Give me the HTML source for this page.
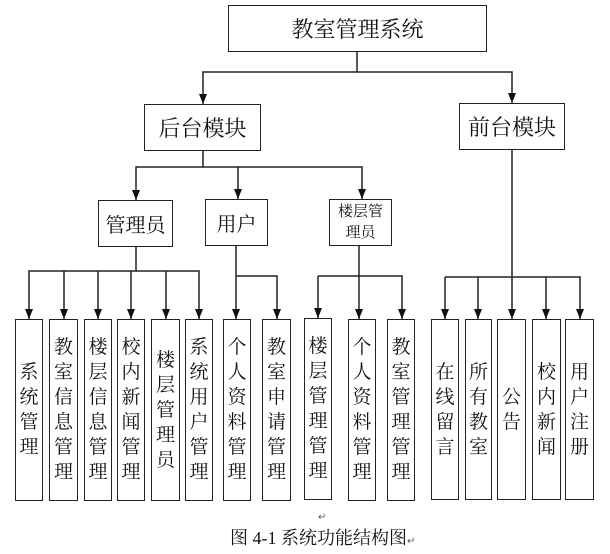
<!DOCTYPE html>
<html><head><meta charset="utf-8"><style>
body{margin:0;background:#fff;width:610px;height:552px;position:relative;overflow:hidden;font-family:"Liberation Serif","Noto Serif CJK SC",serif;color:#111}
.b{position:absolute;border:1.5px solid #222;box-sizing:border-box;display:flex;align-items:center;justify-content:center;text-align:center}
.v{font-size:19px;line-height:25px;width:20px;word-break:break-all}
svg{position:absolute;left:0;top:0}
</style></head><body>
<svg width="610" height="552" viewBox="0 0 610 552">
<defs><marker id="a" markerWidth="10" markerHeight="8" refX="10" refY="4" orient="auto" markerUnits="userSpaceOnUse"><path d="M0,0 L10,4 L0,8 z" fill="#111"/></marker></defs>
<g stroke="#222" stroke-width="1.5" fill="none">
<path d="M357,52 V72 H203 V104" marker-end="url(#a)"/>
<path d="M357,72 H512 V103" marker-end="url(#a)"/>
<path d="M203,151 V167 H136 V200" marker-end="url(#a)"/>
<path d="M203,167 H238 V199" marker-end="url(#a)"/>
<path d="M238,167 H362 V199" marker-end="url(#a)"/>
<path d="M136,247 V271 H29 V319" marker-end="url(#a)"/>
<path d="M64,271 V319" marker-end="url(#a)"/>
<path d="M98,271 V319" marker-end="url(#a)"/>
<path d="M131,271 V319" marker-end="url(#a)"/>
<path d="M166,271 V319" marker-end="url(#a)"/>
<path d="M136,271 H199 V319" marker-end="url(#a)"/>
<path d="M236,246 V319" marker-end="url(#a)"/>
<path d="M236,276 H277 V319" marker-end="url(#a)"/>
<path d="M359,246 V319" marker-end="url(#a)"/>
<path d="M318,276 H402 V319" marker-end="url(#a)"/>
<path d="M318,276 V318" marker-end="url(#a)"/>
<path d="M512,149 V319" marker-end="url(#a)"/>
<path d="M445,277 H580 V319" marker-end="url(#a)"/>
<path d="M445,277 V319" marker-end="url(#a)"/>
<path d="M478,277 V319" marker-end="url(#a)"/>
<path d="M546,277 V319" marker-end="url(#a)"/>
</g></svg>
<div class="b" style="left:228px;top:5px;width:259px;height:47px;font-size:22px">教室管理系统</div>
<div class="b" style="left:144px;top:104px;width:117px;height:47px;font-size:22px">后台模块</div>
<div class="b" style="left:459px;top:103px;width:106px;height:47px;font-size:22px">前台模块</div>
<div class="b" style="left:98px;top:200px;width:75px;height:47px;font-size:20px">管理员</div>
<div class="b" style="left:205px;top:199px;width:63px;height:47px;font-size:20px">用户</div>
<div class="b" style="left:329px;top:199px;width:63px;height:47px;font-size:15px;line-height:21px">楼层管<br>理员</div>

<div class="b" style="left:15px;top:319px;width:28px;height:182px"><div class="v">系统管理</div></div>
<div class="b" style="left:49px;top:319px;width:29px;height:182px"><div class="v">教室信息管理</div></div>
<div class="b" style="left:84px;top:319px;width:28px;height:182px"><div class="v">楼层信息管理</div></div>
<div class="b" style="left:117px;top:319px;width:28px;height:182px"><div class="v">校内新闻管理</div></div>
<div class="b" style="left:151px;top:319px;width:29px;height:182px"><div class="v">楼层管理员</div></div>
<div class="b" style="left:185px;top:319px;width:28px;height:182px"><div class="v">系统用户管理</div></div>
<div class="b" style="left:223px;top:319px;width:28px;height:182px"><div class="v">个人资料管理</div></div>
<div class="b" style="left:262px;top:319px;width:29px;height:182px"><div class="v">教室申请管理</div></div>
<div class="b" style="left:304px;top:318px;width:28px;height:182px"><div class="v">楼层管理管理</div></div>
<div class="b" style="left:348px;top:319px;width:28px;height:182px"><div class="v">个人资料管理</div></div>
<div class="b" style="left:387px;top:319px;width:28px;height:182px"><div class="v">教室管理管理</div></div>
<div class="b" style="left:431px;top:319px;width:28px;height:181px"><div class="v">在线留言</div></div>
<div class="b" style="left:465px;top:319px;width:27px;height:181px"><div class="v">所有教室</div></div>
<div class="b" style="left:497px;top:319px;width:29px;height:181px"><div class="v">公告</div></div>
<div class="b" style="left:532px;top:319px;width:29px;height:181px"><div class="v">校内新闻</div></div>
<div class="b" style="left:565px;top:319px;width:29px;height:181px"><div class="v">用户注册</div></div>

<div style="position:absolute;left:318px;top:512px;font-size:10px;color:#555">↵</div>
<div style="position:absolute;left:230px;top:526px;font-size:18px;line-height:24px;white-space:nowrap">图 <span style="font-family:'Liberation Serif';font-size:18px">4-1</span> 系统功能结构图<span style="font-size:10px;color:#555">↵</span></div>
</body></html>
